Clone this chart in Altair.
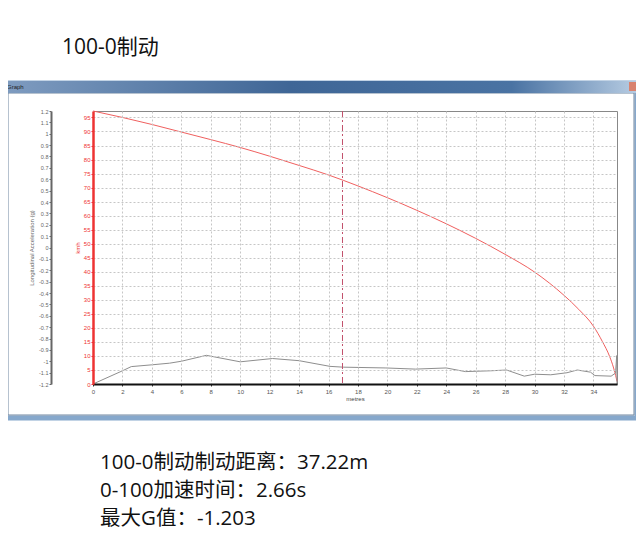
import altair as alt
import pandas as pd

# ---- data ----
dist_speed = [0, 2, 4, 6, 8, 10, 12, 14, 16, 17, 18, 20, 22, 24, 26, 28, 30, 31, 32, 33, 34, 34.6, 35.1, 35.37, 35.55, 35.6]
speed_kmh = [97.3, 95.0, 92.5, 89.8, 87.1, 84.3, 81.2, 77.9, 74.5, 72.6, 70.6, 66.4, 61.9, 57.1, 51.9, 46.2, 39.9, 36.0, 31.6, 26.6, 20.6, 15.2, 9.8, 5.7, 2.1, 0.9]

dist_acc = [0, 2.0, 2.6, 3.95, 5.2, 6.0, 7.7, 10.0, 12.2, 14.0, 16.1, 17.0, 19.9, 21.9, 24.0, 25.3, 27.0, 28.1, 29.3, 30.0, 31.1, 32.2, 32.9, 33.8, 34.1, 35.2, 35.5, 35.58, 35.6]
acc_g = [-1.2, -1.084, -1.047, -1.032, -1.017, -1.0, -0.948, -1.005, -0.976, -0.995, -1.045, -1.052, -1.059, -1.069, -1.059, -1.091, -1.084, -1.077, -1.131, -1.114, -1.119, -1.101, -1.077, -1.096, -1.126, -1.131, -1.104, -0.95, -1.2]

marker_dist = [16.95]

speed_ticks = [0, 5, 10, 15, 20, 25, 30, 35, 40, 45, 50, 55, 60, 65, 70, 75, 80, 85, 90, 95]
acc_ticks = [1.2, 1.1, 1, 0.9, 0.8, 0.7, 0.6, 0.5, 0.4, 0.3, 0.2, 0.1, 0, -0.1, -0.2, -0.3, -0.4, -0.5,
             -0.6, -0.7, -0.8, -0.9, -1, -1.1, -1.2]
x_ticks = [0, 2, 4, 6, 8, 10, 12, 14, 16, 18, 20, 22, 24, 26, 28, 30, 32, 34]

title_text = "100-0制动"
info_lines = ["100-0制动制动距离：37.22m", "0-100加速时间：2.66s", "最大G值：-1.203"]

speed_df = pd.DataFrame({"d": dist_speed, "v": speed_kmh})
acc_df = pd.DataFrame({"d": dist_acc, "g": acc_g})
marker_df = pd.DataFrame({"d": marker_dist})
one = pd.DataFrame({"a": [0]})

SMALL = "Liberation Sans"
BIG = "Open Sans, Noto Sans CJK SC"
RED = "#ee3333"

x_axis = alt.Axis(
    values=x_ticks, title="metres", titleFontSize=6, titleFontWeight="normal",
    titleColor="#444", titleFont=SMALL, titlePadding=1,
    labelFontSize=6, labelColor="#555", labelFont=SMALL, labelPadding=2,
    labelOverlap=False, labelFlush=False,
    domainColor="#111", domainWidth=2, tickColor="#333", tickSize=2,
    grid=True, gridColor="#c6c6c6", gridDash=[2, 2], zindex=1,
)
x_scale = alt.Scale(domain=[0, 35.6], nice=False, zero=False)
x_enc = alt.X("d:Q", scale=x_scale, axis=x_axis)

# ---- window frame decorations ----
frame = alt.Chart(one).mark_rect(fillOpacity=0, stroke="#86a8cc", strokeWidth=5).encode(
    x=alt.value(-88), x2=alt.value(544), y=alt.value(-28), y2=alt.value(307)
)
inner = alt.Chart(one).mark_rect(fillOpacity=0, stroke="#6f86a0", strokeWidth=1).encode(
    x=alt.value(-85), x2=alt.value(541), y=alt.value(-18), y2=alt.value(304)
)
titlebar = alt.Chart(one).mark_rect(
    color=alt.LinearGradient(
        gradient="linear", x1=0, x2=1, y1=0, y2=0,
        stops=[alt.GradientStop(color="#7f9cc0", offset=0),
               alt.GradientStop(color="#3f6696", offset=0.45),
               alt.GradientStop(color="#4a73a3", offset=0.8),
               alt.GradientStop(color="#b8cde3", offset=1)],
    )
).encode(x=alt.value(-90), x2=alt.value(546), y=alt.value(-30), y2=alt.value(-18))
closebtn = alt.Chart(one).mark_rect(color="#d9826f").encode(
    x=alt.value(536), x2=alt.value(544), y=alt.value(-29), y2=alt.value(-20)
)
graph_lbl = alt.Chart(one).mark_text(
    text="Graph", fontSize=6, font=SMALL, color="#222", align="left", baseline="middle"
).encode(x=alt.value(-86), y=alt.value(-24))

title_mark = alt.Chart(one).mark_text(
    text=title_text, fontSize=21, font=BIG, color="#111", align="left", baseline="middle"
).encode(x=alt.value(-31), y=alt.value(-63))

info_marks = [
    alt.Chart(one).mark_text(
        text=t, fontSize=20.5, font=BIG, color="#111", align="left", baseline="middle"
    ).encode(x=alt.value(7), y=alt.value(yy))
    for t, yy in zip(info_lines, [352, 380, 408])
]

# ---- data layers ----
speed_line = alt.Chart(speed_df).mark_line(color="#f0605f", strokeWidth=1, interpolate="monotone").encode(
    x=x_enc,
    y=alt.Y(
        "v:Q",
        scale=alt.Scale(domain=[0, 97.3], nice=False, zero=False),
        axis=alt.Axis(
            values=speed_ticks, orient="left", title="kmh", titleColor=RED,
            titleFontSize=6, titleFontWeight="normal", titleFont=SMALL, titlePadding=3,
            labelColor=RED, labelFontSize=6, labelFont=SMALL, labelPadding=1,
            labelOverlap=False,
            domainColor=RED, domainWidth=2.5, tickColor=RED, tickSize=2,
            grid=True, gridColor="#c6c6c6", gridDash=[2, 2], zindex=1,
        ),
    ),
)

acc_line = alt.Chart(acc_df).mark_line(color="#8e8e8e", strokeWidth=1).encode(
    x=x_enc,
    y=alt.Y(
        "g:Q",
        scale=alt.Scale(domain=[-1.2, 1.2], nice=False, zero=False),
        axis=alt.Axis(
            values=acc_ticks, orient="left", offset=42, labelExpr="'' + datum.value",
            title="Longitudinal Acceleration (g)", titleColor="#666", titleFontSize=6,
            titleFontWeight="normal", titleFont=SMALL, titlePadding=4,
            labelColor="#666", labelFontSize=5.5, labelFont=SMALL, labelPadding=1,
            labelOverlap=False,
            domainColor="#666", domainWidth=2, tickColor="#666", tickSize=2,
            grid=False, zindex=1,
        ),
    ),
)

marker = alt.Chart(marker_df).mark_rule(color="#c2506c", strokeWidth=1, strokeDash=[6, 3, 2, 3]).encode(
    x=x_enc
)

chart = alt.layer(
    frame, inner, titlebar, closebtn, graph_lbl, title_mark, *info_marks,
    speed_line, acc_line, marker,
).resolve_scale(y="independent").properties(
    width=524, height=273,
    autosize=alt.AutoSizeParams(type="none"),
    padding={"left": 85, "top": 103, "right": 19, "bottom": 146},
    background="white",
).configure_view(stroke="#888", strokeWidth=1).configure_axisX(labelOverlap=False)

chart.save("out.html", embed_options={"renderer": "svg", "actions": False})
